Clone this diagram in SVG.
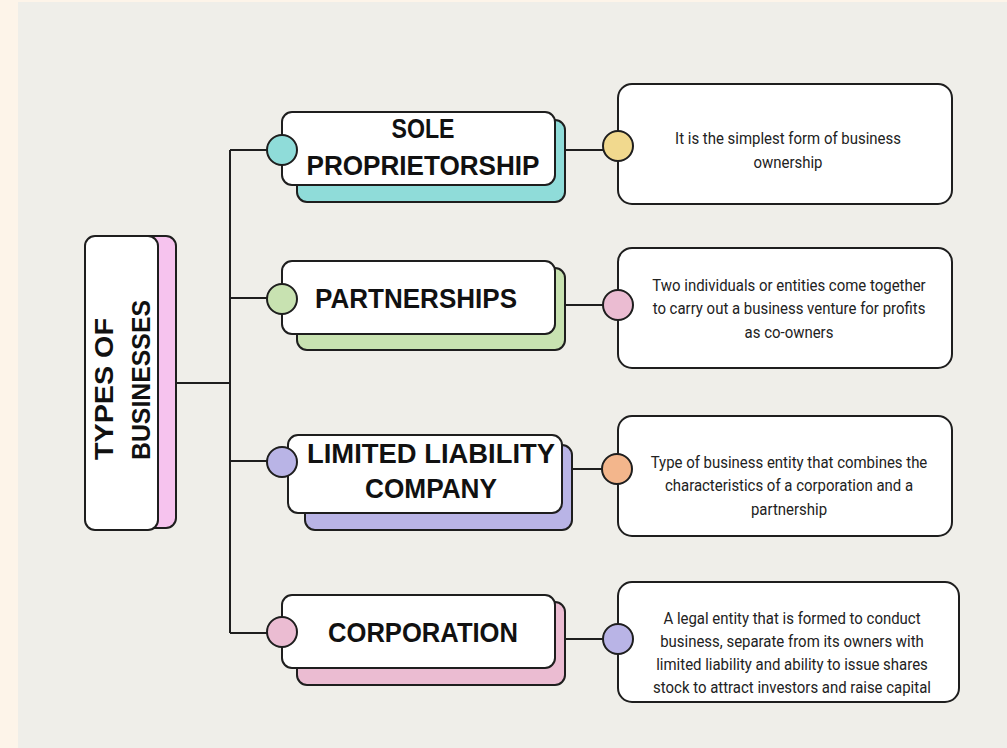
<svg xmlns="http://www.w3.org/2000/svg" width="1007" height="748" viewBox="0 0 1007 748">
<style>
.ln{stroke:#1e1e1e;stroke-width:2;fill:none}
.w{fill:#ffffff;stroke:#1e1e1e;stroke-width:2}
.sh{stroke:#1e1e1e;stroke-width:2}
.dot{stroke:#1e1e1e;stroke-width:2}
.t{font-family:"Liberation Sans",Arial,sans-serif;font-weight:bold;font-size:27px;fill:#111;text-anchor:middle}
.d{font-family:Roboto,"Liberation Sans",sans-serif;font-size:17px;fill:#222;text-anchor:middle}
</style>
<rect x="0" y="0" width="1007" height="748" fill="#fdf4e9"/>
<rect x="18" y="2" width="989" height="746" fill="#efeee9"/>
<g id="connectors">
<path class="ln" d="M176 383H230M230 150V633M230 150H270M230 298H270M230 461H270M230 633H270"/>
<path class="ln" d="M565 150H603M565 305H603M572 469H603M565 639H603"/>
</g>
<g id="main">
<rect class="sh" x="102" y="236" width="74" height="292" rx="10" fill="#f6c3ee"/>
<rect class="w" x="85" y="236" width="73" height="294" rx="10"/>
<text class="t" transform="translate(113 460) rotate(-90)" style="text-anchor:start;font-size:25px" textLength="142" lengthAdjust="spacingAndGlyphs">TYPES OF</text>
<text class="t" transform="translate(150 460) rotate(-90)" style="text-anchor:start;font-size:25px" textLength="160" lengthAdjust="spacingAndGlyphs">BUSINESSES</text>
</g>
<g id="sole">
<rect class="sh" x="297" y="120" width="268" height="82" rx="10" fill="#8fdcd9"/>
<rect class="w" x="282" y="112" width="273" height="73" rx="10"/>
<circle class="dot" cx="282" cy="150" r="15" fill="#8fdcd9"/>
<text class="t" x="423" y="138" textLength="63" lengthAdjust="spacingAndGlyphs">SOLE</text>
<text class="t" x="423" y="175" textLength="233" lengthAdjust="spacingAndGlyphs">PROPRIETORSHIP</text>
</g>
<g id="partnerships">
<rect class="sh" x="297" y="268" width="268" height="82" rx="10" fill="#c8e2b1"/>
<rect class="w" x="282" y="261" width="273" height="73" rx="10"/>
<circle class="dot" cx="282" cy="299" r="15" fill="#c8e2b1"/>
<text class="t" x="416" y="308" textLength="202" lengthAdjust="spacingAndGlyphs">PARTNERSHIPS</text>
</g>
<g id="llc">
<rect class="sh" x="305" y="445" width="267" height="85" rx="10" fill="#b9b4e6"/>
<rect class="w" x="288" y="435" width="274" height="78" rx="10"/>
<circle class="dot" cx="282" cy="462" r="15" fill="#b9b4e6"/>
<text class="t" x="431" y="463" textLength="248" lengthAdjust="spacingAndGlyphs">LIMITED LIABILITY</text>
<text class="t" x="431" y="498" textLength="132" lengthAdjust="spacingAndGlyphs">COMPANY</text>
</g>
<g id="corporation">
<rect class="sh" x="297" y="602" width="268" height="83" rx="10" fill="#ebbcd2"/>
<rect class="w" x="282" y="595" width="273" height="73" rx="10"/>
<circle class="dot" cx="282" cy="632" r="15" fill="#ebbcd2"/>
<text class="t" x="423" y="642" textLength="190" lengthAdjust="spacingAndGlyphs">CORPORATION</text>
</g>
<g id="desc1">
<rect class="w" x="618" y="84" width="334" height="120" rx="14"/>
<circle class="dot" cx="618" cy="146" r="15" fill="#f1d98e"/>
<g transform="translate(788 0) scale(0.88 1)">
<text class="d" x="0" y="144">It is the simplest form of business</text>
<text class="d" x="0" y="168">ownership</text>
</g>
</g>
<g id="desc2">
<rect class="w" x="618" y="248" width="334" height="120" rx="14"/>
<circle class="dot" cx="618" cy="305" r="15" fill="#ebbcd2"/>
<g transform="translate(789 0) scale(0.88 1)">
<text class="d" x="0" y="291">Two individuals or entities come together</text>
<text class="d" x="0" y="314">to carry out a business venture for profits</text>
<text class="d" x="0" y="338">as co-owners</text>
</g>
</g>
<g id="desc3">
<rect class="w" x="618" y="416" width="334" height="120" rx="14"/>
<circle class="dot" cx="617" cy="469" r="15" fill="#f3b68c"/>
<g transform="translate(789 0) scale(0.88 1)">
<text class="d" x="0" y="468">Type of business entity that combines the</text>
<text class="d" x="0" y="491">characteristics of a corporation and a</text>
<text class="d" x="0" y="515">partnership</text>
</g>
</g>
<g id="desc4">
<rect class="w" x="618" y="582" width="341" height="120" rx="14"/>
<circle class="dot" cx="618" cy="639" r="15" fill="#b9b4e6"/>
<g transform="translate(792 0) scale(0.88 1)">
<text class="d" x="0" y="624">A legal entity that is formed to conduct</text>
<text class="d" x="0" y="647">business, separate from its owners with</text>
<text class="d" x="0" y="670">limited liability and ability to issue shares</text>
<text class="d" x="0" y="693">stock to attract investors and raise capital</text>
</g>
</g>
</svg>
